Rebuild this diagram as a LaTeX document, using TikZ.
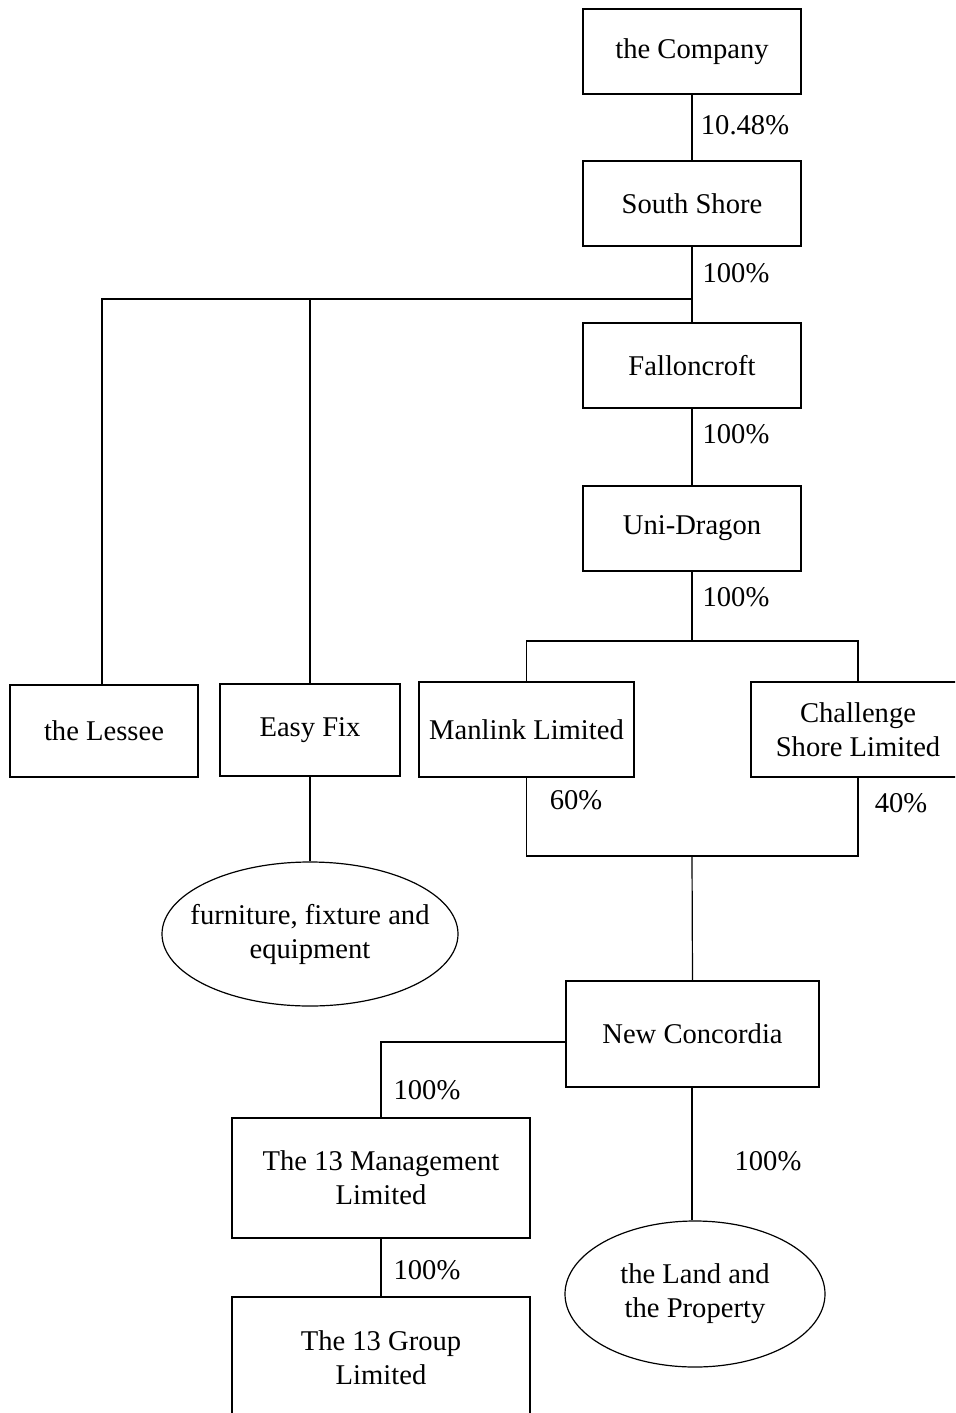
\documentclass[tikz,border=0pt]{standalone}
\usepackage{fontspec}
\setmainfont{Liberation Serif}
\usetikzlibrary{shapes.geometric}
\begin{document}
\begin{tikzpicture}[x=0.5pt,y=-0.5pt,
  line width=0.6pt,
  every node/.style={font=\fontsize{14.3pt}{17pt}\selectfont, inner sep=0pt, align=center},
  box/.style={draw, rectangle},
  bigbox/.style={box, minimum width=109pt, minimum height=42.5pt},
  oval/.style={draw, ellipse},
  pct/.style={}]
\useasboundingbox (0,0) rectangle (955,1413);
\clip (0,0) rectangle (955,1413);
% boxes
\node[bigbox] (company) at (692,51.5) {the Company};
\node[bigbox] (south) at (692,203.5) {South Shore};
\node[bigbox] (fallon) at (692,365.5) {Falloncroft};
\node[bigbox] (uni) at (692,528.5) {Uni-Dragon};
\node[box, minimum width=94pt, minimum height=46pt] (lessee) at (104,731) {the Lessee};
\node[box, minimum width=90pt, minimum height=46pt] (easy) at (310,730) {Easy Fix};
\node[box, minimum width=107.5pt, minimum height=47.5pt] (manlink) at (526.5,729.5) {Manlink Limited};
\node[box, minimum width=107pt, minimum height=47.5pt] (challenge) at (858,729.5) {Challenge\\Shore Limited};
\node[oval, minimum width=148pt, minimum height=72pt] (ffe) at (310,934) {};
\node (ffetext) at (ffe.center) {furniture, fixture and\\equipment};
\node[box, minimum width=126.5pt, minimum height=53pt] (newc) at (692.5,1034) {New Concordia};
\node[box, minimum width=149pt, minimum height=60pt] (mgmt) at (381,1178) {The 13 Management\\Limited};
\node[box, minimum width=149pt, minimum height=61pt] (group) at (381,1358) {The 13 Group\\Limited};
\node[oval, minimum width=130pt, minimum height=73pt] (land) at (695,1294) {};
\node (landtext) at (land.center) {the Land and\\the Property};
% junctions
\coordinate (j1) at (692,299);
\coordinate (j2) at (692,641);
\coordinate (j3) at (692,856);
% connectors
\draw (company.south) -- (south.north);
\draw (south.south) -- (fallon.north);
\draw (j1) -| ([xshift=-1pt]lessee.north);
\draw (j1 -| easy.north) -- (easy.north);
\draw (fallon.south) -- (uni.north);
\draw (uni.south) -- (j2);
\draw (j2) -| (manlink.north);
\draw (j2) -| (challenge.north);
\draw (manlink.south) |- (j3);
\draw (challenge.south) |- (j3);
\draw (j3) -- (newc.north);
\draw (easy.south) -- (ffe.north);
\draw ([yshift=-4pt]newc.west) -| (mgmt.north);
\draw (mgmt.south) -- (group.north);
\draw ([xshift=-0.25pt]newc.south) -- ([xshift=-0.25pt]newc.south |- land.north);
% labels
\node[pct] (p1) at (745,125) {10.48\%};
\node[pct] (p2) at (736,273) {100\%};
\node[pct] (p3) at (736,434) {100\%};
\node[pct] (p4) at (736,597) {100\%};
\node[pct] (p5) at (576,800) {60\%};
\node[pct] (p6) at (901,803) {40\%};
\node[pct] (p7) at (427,1090) {100\%};
\node[pct] (p8) at (768,1161) {100\%};
\node[pct] (p9) at (427,1270) {100\%};
\end{tikzpicture}
\end{document}
